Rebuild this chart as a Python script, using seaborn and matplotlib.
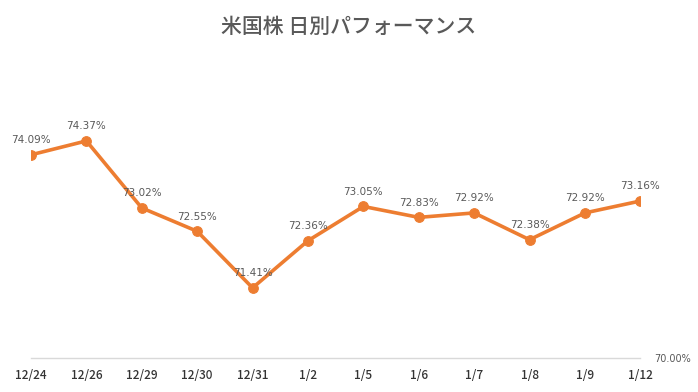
import numpy as np
import pandas as pd
import matplotlib
matplotlib.use('Agg')
import matplotlib.pyplot as plt
import seaborn as sns

dates  = ['12/24', '12/26', '12/29', '12/30', '12/31', '1/2',
          '1/5', '1/6', '1/7', '1/8', '1/9', '1/12']
values = [74.09, 74.37, 73.02, 72.55, 71.41, 72.36,
          73.05, 72.83, 72.92, 72.38, 72.92, 73.16]
yTicks = [70.0]
title  = '米国株 日別パフォーマンス'

lineColor = '#ED7D31'
textColor = '#595959'

sns.set_style('white')
plt.rcParams['font.family'] = ['Noto Sans CJK JP', 'DejaVu Sans']

df = pd.DataFrame({'pos': np.arange(len(dates)), 'value': values})

fig = plt.figure(figsize=(6.98, 3.92), dpi=100)
ax = fig.add_axes([0.0444, 0.087, 0.873, 0.760])

sns.lineplot(data=df, x='pos', y='value', ax=ax, color=lineColor,
             linewidth=2.6, marker='o', markersize=7,
             markeredgecolor=lineColor, markerfacecolor=lineColor)

for x, v in zip(df['pos'], df['value']):
    ax.annotate(f'{v:.2f}%', (x, v), xytext=(0, 7), textcoords='offset points',
                ha='center', va='bottom', fontsize=7.5, color=textColor,
                family=['DejaVu Sans'])

ax.set_xlim(0, len(dates) - 1)
ax.set_ylim(70, 76)
ax.set_xticks(df['pos'])
ax.set_xticklabels(dates, fontsize=8.5, color='#333333', fontweight='medium',
                   family=['Noto Sans CJK JP', 'DejaVu Sans'])
ax.yaxis.tick_right()
ax.set_yticks(yTicks)
ax.set_yticklabels([f'{t:.2f}%' for t in yTicks], fontsize=7, color=textColor,
                   family=['DejaVu Sans'])
ax.tick_params(axis='both', length=0)
ax.tick_params(axis='x', pad=8)
ax.tick_params(axis='y', pad=10)
ax.set_xlabel('')
ax.set_ylabel('')

for side in ['top', 'left', 'right']:
    ax.spines[side].set_visible(False)
ax.spines['bottom'].set_color('#D9D9D9')
ax.spines['bottom'].set_linewidth(1)

fig.suptitle(title, x=0.5, y=0.96, fontsize=15, color=textColor, fontweight='medium')

plt.savefig('out.png', dpi=100)
plt.close()
